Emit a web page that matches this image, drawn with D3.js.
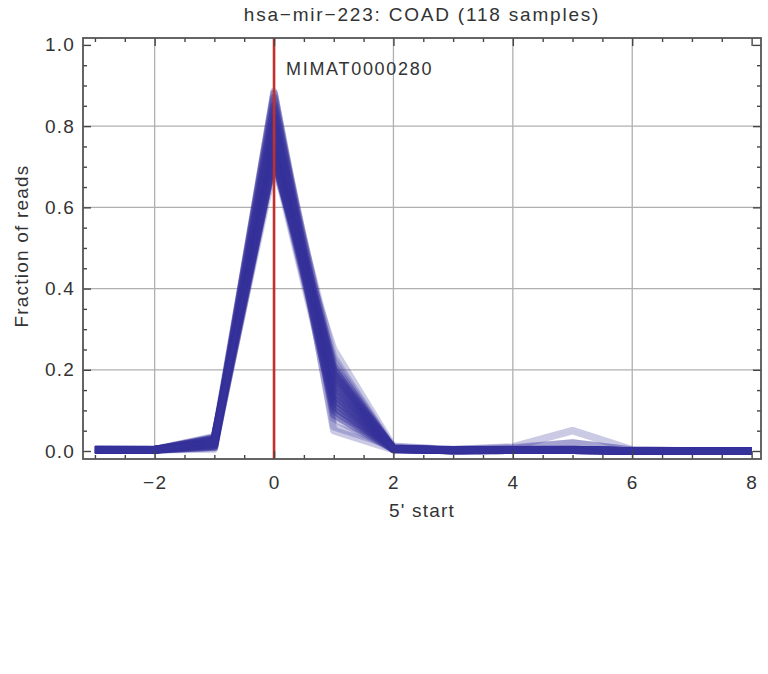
<!DOCTYPE html>
<html>
<head>
<meta charset="utf-8">
<script src="https://cdn.jsdelivr.net/npm/d3@7"></script>
<style>
  body { margin: 0; background: #fff; }
  svg { display: block; font-family: 'Liberation Sans', Arial, sans-serif; }
</style>
</head>
<body>
<div id="chart"></div>
<script>
// 5' start positions
const positions = [-3, -2, -1, 0, 1, 2, 3, 4, 5, 6, 7, 8];

// Fraction of reads per sample
const samples = [
  [0.002, 0.002, 0.010, 0.885, 0.100, 0.004, 0.001, 0.002, 0.002, 0, 0, 0],
  [0.003, 0.003, 0.025, 0.880, 0.140, 0.005, 0.001, 0.003, 0.003, 0, 0, 0],
  [0.004, 0.003, 0.015, 0.870, 0.090, 0.004, 0.001, 0.002, 0.002, 0, 0, 0],
  [0.002, 0.002, 0.030, 0.860, 0.180, 0.006, 0.002, 0.003, 0.003, 0, 0, 0],
  [0.003, 0.003, 0.008, 0.850, 0.120, 0.004, 0.001, 0.002, 0.002, 0, 0, 0],
  [0.003, 0.002, 0.020, 0.840, 0.200, 0.005, 0.001, 0.003, 0.003, 0, 0, 0],
  [0.004, 0.004, 0.012, 0.830, 0.110, 0.004, 0.001, 0.002, 0.002, 0, 0, 0],
  [0.002, 0.003, 0.028, 0.820, 0.160, 0.006, 0.002, 0.003, 0.004, 0, 0, 0],
  [0.003, 0.003, 0.018, 0.810, 0.130, 0.005, 0.001, 0.002, 0.002, 0, 0, 0],
  [0.003, 0.003, 0.005, 0.800, 0.210, 0.004, 0.001, 0.002, 0.002, 0, 0, 0],
  [0.004, 0.003, 0.022, 0.790, 0.150, 0.006, 0.001, 0.003, 0.003, 0, 0, 0],
  [0.002, 0.002, 0.014, 0.780, 0.100, 0.005, 0.001, 0.002, 0.002, 0, 0, 0],
  [0.003, 0.004, 0.032, 0.770, 0.170, 0.007, 0.002, 0.003, 0.003, 0, 0, 0],
  [0.003, 0.003, 0.010, 0.760, 0.190, 0.005, 0.001, 0.002, 0.002, 0, 0, 0],
  [0.004, 0.003, 0.024, 0.750, 0.130, 0.006, 0.002, 0.003, 0.003, 0, 0, 0],
  [0.002, 0.003, 0.016, 0.740, 0.200, 0.005, 0.001, 0.002, 0.002, 0, 0, 0],
  [0.003, 0.003, 0.030, 0.730, 0.140, 0.007, 0.002, 0.003, 0.004, 0, 0, 0],
  [0.003, 0.002, 0.012, 0.720, 0.180, 0.005, 0.001, 0.002, 0.002, 0, 0, 0],
  [0.004, 0.004, 0.020, 0.730, 0.120, 0.006, 0.002, 0.003, 0.003, 0, 0, 0],
  [0.002, 0.002, 0.026, 0.720, 0.210, 0.006, 0.002, 0.003, 0.003, 0, 0, 0],
  [0.003, 0.003, 0.034, 0.730, 0.160, 0.005, 0.001, 0.002, 0.002, 0, 0, 0],
  [0.003, 0.003, 0.035, 0.720, 0.110, 0.007, 0.002, 0.004, 0.004, 0, 0, 0],
  [0.004, 0.003, 0.030, 0.740, 0.190, 0.006, 0.001, 0.003, 0.003, 0, 0, 0],
  [0.002, 0.003, 0.024, 0.750, 0.140, 0.006, 0.002, 0.003, 0.003, 0, 0, 0],
  [0.003, 0.003, 0.010, 0.720, 0.200, 0.005, 0.001, 0.002, 0.002, 0, 0, 0],
  [0.003, 0.004, 0.028, 0.740, 0.170, 0.007, 0.002, 0.003, 0.004, 0, 0, 0],
  [0.004, 0.003, 0.020, 0.770, 0.150, 0.006, 0.002, 0.003, 0.003, 0, 0, 0],
  [0.003, 0.003, 0.030, 0.790, 0.190, 0.008, 0.002, 0.004, 0.004, 0, 0, 0],
  [0.003, 0.003, 0.016, 0.880, 0.080, 0.004, 0.001, 0.002, 0.002, 0, 0, 0],
  [0.002, 0.002, 0.022, 0.850, 0.160, 0.005, 0.001, 0.002, 0.002, 0, 0, 0],
  [0.003, 0.003, 0.012, 0.820, 0.090, 0.004, 0.001, 0.002, 0.002, 0, 0, 0],
  [0.004, 0.004, 0.026, 0.790, 0.190, 0.006, 0.002, 0.003, 0.003, 0, 0, 0],
  [0.003, 0.003, 0.018, 0.760, 0.110, 0.005, 0.001, 0.002, 0.002, 0, 0, 0],
  [0.002, 0.003, 0.030, 0.730, 0.170, 0.006, 0.002, 0.003, 0.003, 0, 0, 0],
  [0.003, 0.003, 0.014, 0.730, 0.130, 0.005, 0.001, 0.002, 0.002, 0, 0, 0],
  [0.003, 0.002, 0.032, 0.720, 0.220, 0.006, 0.002, 0.003, 0.003, 0, 0, 0],
  [0.003, 0.003, 0.015, 0.870, 0.050, 0.003, 0.001, 0.002, 0.002, 0, 0, 0],
  [0.004, 0.004, 0.020, 0.700, 0.250, 0.010, 0.003, 0.006, 0.020, 0.002, 0, 0],
  [0.003, 0.003, 0.020, 0.800, 0.230, 0.005, 0.004, 0.010, 0.050, 0.003, 0, 0],
  [0.003, 0.003, 0.018, 0.840, 0.060, 0.012, 0.003, 0.008, 0.020, 0.002, 0, 0]
];

const xTicks = [-2, 0, 2, 4, 6, 8];
const xGrid = [-2, 0, 2, 4, 6];
const yTicks = [0, 0.2, 0.4, 0.6, 0.8, 1.0];
const yGrid = [0.2, 0.4, 0.6, 0.8];
const matureStart = 0;
const matureName = 'MIMAT0000280';
const title = 'hsa\u2212mir\u2212223: COAD (118 samples)';

const W = 768, H = 674;
const frame = { left: 83, right: 761, top: 38, bottom: 459 };
const textColor = '#333';

const svg = d3.select('#chart').append('svg').attr('width', W).attr('height', H);

const x = d3.scaleLinear().domain([-3.2, 8.157]).range([frame.left, frame.right]);
const y = d3.scaleLinear().domain([-0.0197, 1.017]).range([frame.bottom, frame.top]);

const fmtX = (d) => (d < 0 ? '\u2212' + Math.abs(d) : String(d));
const fmtY = d3.format('.1f');

// Grid lines
const grid = svg.append('g').attr('stroke', '#b0b0b0').attr('stroke-width', 1.3);
grid.append('g')
  .selectAll('line')
  .data(xGrid)
  .join('line')
  .attr('x1', (d) => x(d)).attr('x2', (d) => x(d))
  .attr('y1', frame.top).attr('y2', frame.bottom);
grid.append('g')
  .selectAll('line')
  .data(yGrid)
  .join('line')
  .attr('y1', (d) => y(d)).attr('y2', (d) => y(d))
  .attr('x1', frame.left).attr('x2', frame.right);

// Sample lines
const line = d3.line()
  .x((d, i) => x(positions[i]))
  .y((d) => y(d));

svg.append('g')
  .selectAll('path')
  .data(samples)
  .join('path')
  .attr('d', line)
  .attr('fill', 'none')
  .attr('stroke', '#37329c')
  .attr('stroke-opacity', 0.26)
  .attr('stroke-width', 7.5)
  .attr('stroke-linejoin', 'round');

// Mature start marker
svg.append('line')
  .attr('x1', x(matureStart)).attr('x2', x(matureStart))
  .attr('y1', frame.top).attr('y2', frame.bottom)
  .attr('stroke', '#c0302c')
  .attr('stroke-width', 2.6);

svg.append('text')
  .attr('x', x(matureStart) + 12)
  .attr('y', 75)
  .attr('font-size', 18)
  .attr('letter-spacing', 1.7)
  .attr('fill', textColor)
  .text(matureName);

// Axes: major/minor ticks pointing inside on all four sides
const xMinor = [-3, -2.5, -1.5, -1, -0.5, 0.5, 1, 1.5, 2.5, 3, 3.5, 4.5, 5, 5.5, 6.5, 7, 7.5];
const yMinor = [0.05, 0.1, 0.15, 0.25, 0.3, 0.35, 0.45, 0.5, 0.55, 0.65, 0.7, 0.75, 0.85, 0.9, 0.95];

const styleAxis = (g) => {
  g.select('.domain').remove();
  g.selectAll('.tick line').attr('stroke', '#444').attr('stroke-width', 1.4);
  g.selectAll('.tick text').attr('fill', textColor).attr('font-size', 19)
    .attr('letter-spacing', 1.2)
    .attr('font-family', "'Liberation Sans', Arial, sans-serif");
};

svg.append('g')
  .attr('transform', `translate(0,${frame.bottom})`)
  .call(d3.axisBottom(x).tickValues(xTicks).tickFormat(fmtX).tickSizeInner(-8).tickPadding(17))
  .call(styleAxis);
svg.append('g')
  .attr('transform', `translate(0,${frame.bottom})`)
  .call(d3.axisBottom(x).tickValues(xMinor).tickFormat('').tickSizeInner(-4))
  .call(styleAxis);
svg.append('g')
  .attr('transform', `translate(0,${frame.top})`)
  .call(d3.axisTop(x).tickValues(xTicks).tickFormat('').tickSizeInner(-8))
  .call(styleAxis);
svg.append('g')
  .attr('transform', `translate(0,${frame.top})`)
  .call(d3.axisTop(x).tickValues(xMinor).tickFormat('').tickSizeInner(-4))
  .call(styleAxis);

svg.append('g')
  .attr('transform', `translate(${frame.left},0)`)
  .call(d3.axisLeft(y).tickValues(yTicks).tickFormat(fmtY).tickSizeInner(-8).tickPadding(8))
  .call(styleAxis);
svg.append('g')
  .attr('transform', `translate(${frame.left},0)`)
  .call(d3.axisLeft(y).tickValues(yMinor).tickFormat('').tickSizeInner(-4))
  .call(styleAxis);
svg.append('g')
  .attr('transform', `translate(${frame.right},0)`)
  .call(d3.axisRight(y).tickValues(yTicks).tickFormat('').tickSizeInner(-8))
  .call(styleAxis);
svg.append('g')
  .attr('transform', `translate(${frame.right},0)`)
  .call(d3.axisRight(y).tickValues(yMinor).tickFormat('').tickSizeInner(-4))
  .call(styleAxis);

// Frame
svg.append('rect')
  .attr('x', frame.left).attr('y', frame.top)
  .attr('width', frame.right - frame.left)
  .attr('height', frame.bottom - frame.top)
  .attr('fill', 'none')
  .attr('stroke', '#555')
  .attr('stroke-width', 1.8);

// Title and axis labels
svg.append('text')
  .attr('x', (frame.left + frame.right) / 2)
  .attr('y', 21)
  .attr('text-anchor', 'middle')
  .attr('font-size', 19)
  .attr('letter-spacing', 1.8)
  .attr('fill', textColor)
  .text(title);

svg.append('text')
  .attr('x', (frame.left + frame.right) / 2)
  .attr('y', 517)
  .attr('text-anchor', 'middle')
  .attr('font-size', 19)
  .attr('letter-spacing', 1.2)
  .attr('fill', textColor)
  .text("5' start");

svg.append('text')
  .attr('transform', `translate(28,246) rotate(-90)`)
  .attr('text-anchor', 'middle')
  .attr('font-size', 19)
  .attr('letter-spacing', 1.2)
  .attr('fill', textColor)
  .text('Fraction of reads');
</script>
</body>
</html>
